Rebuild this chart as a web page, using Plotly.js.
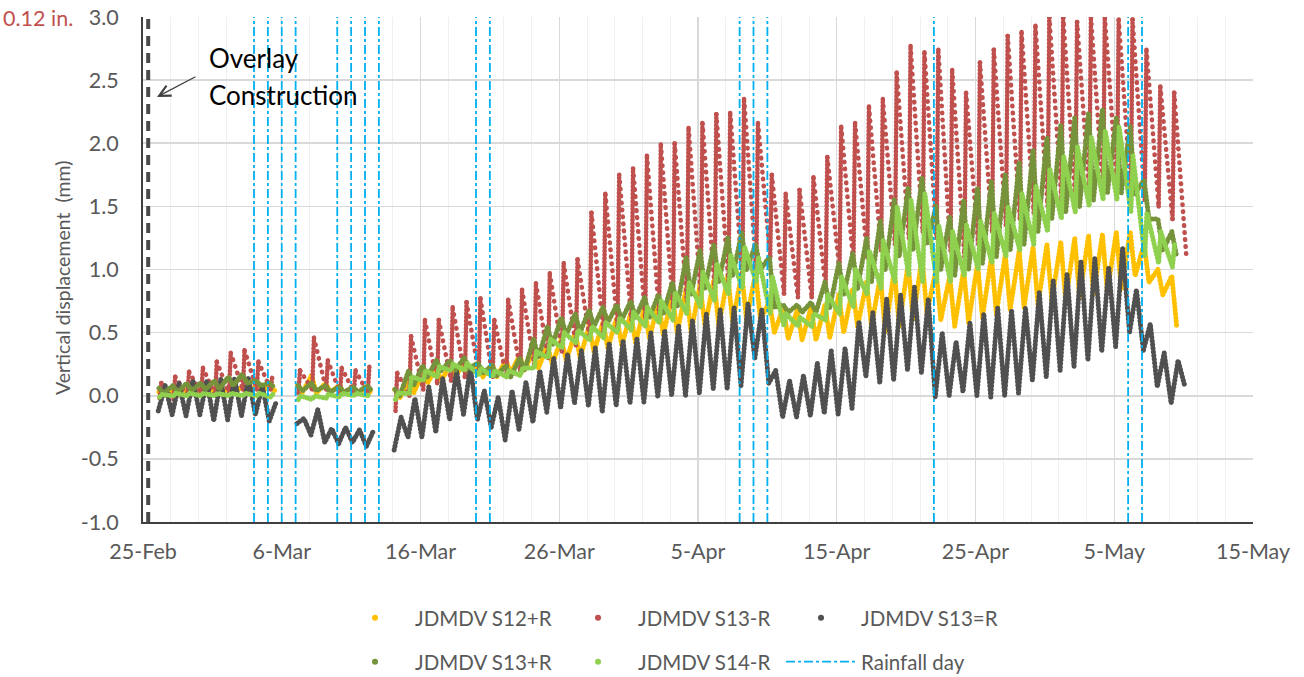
<!DOCTYPE html>
<html><head><meta charset="utf-8">
<script src="https://cdn.plot.ly/plotly-3.0.1.min.js"></script>
<style>
html,body{margin:0;padding:0;background:#fff;}
#chart{width:1304px;height:677px;}
.scatterlayer .trace .js-line{stroke-linejoin:round;}
.traceredfall .js-line,.traceredrise .js-line,.traceyel .js-line,.tracegrey .js-line,.traceolive .js-line,.tracelight .js-line{stroke-linecap:round;}
</style></head><body><div id="chart"></div><script>
// ---------------- DATA ----------------
// day number counted from 25-Feb (2020, leap year)
const days = [1,2,3,4,5,6,7,8,9,10,11,12,13,14,15,16,17,18,19,20,21,22,23,24,25,26,27,28,29,30,31,32,33,34,35,36,37,38,39,40,41,42,43,44,45,46,47,48,49,50,51,52,53,54,55,56,57,58,59,60,61,62,63,64,65,66,67,68,69,70,71,72,73,74,75];

// JDMDV S12+R (daily low / high, mm)
const s12pLow  = [0.00,0.00,0.01,0.01,0.01,0.02,0.02,0.03,0.04,null,0.03,0.02,0.03,0.02,0.02,0.02,null,-0.02,0.02,0.10,0.12,0.15,0.18,0.15,0.15,0.18,0.20,0.22,0.25,0.28,0.30,0.35,0.38,0.40,0.42,0.45,0.48,0.50,0.50,0.55,0.55,0.58,0.60,0.60,0.50,0.45,0.44,0.44,0.46,0.50,0.55,0.55,0.50,0.55,0.60,0.65,0.60,0.55,0.58,0.62,0.65,0.68,0.70,0.72,0.75,0.75,0.78,0.80,0.82,0.85,0.95,0.90,0.80,0.55,null];
const s12pHigh = [0.03,0.04,0.05,0.05,0.06,0.06,0.07,0.08,0.08,null,0.08,0.16,0.10,0.08,0.07,0.06,null,0.05,0.12,0.18,0.22,0.25,0.27,0.25,0.25,0.28,0.32,0.36,0.40,0.45,0.50,0.55,0.58,0.62,0.65,0.70,0.75,0.80,0.85,0.88,0.92,0.95,0.97,0.97,0.75,0.70,0.68,0.70,0.72,0.80,0.85,0.90,0.95,1.00,1.05,1.10,1.00,0.95,1.00,1.05,1.10,1.12,1.15,1.18,1.20,1.22,1.25,1.27,1.28,1.30,1.30,1.20,1.00,0.95,null];

// JDMDV S13-R
const s13mLow  = [-0.02,-0.03,0.00,0.02,0.00,0.02,0.05,0.05,0.05,null,0.02,0.05,0.05,0.02,0.03,0.02,null,-0.12,0.00,0.05,0.10,0.12,0.15,0.18,0.15,0.15,0.20,0.25,0.30,0.35,0.40,0.45,0.50,0.55,0.60,0.62,0.65,0.70,0.75,0.80,0.85,0.90,0.95,1.00,1.10,0.81,0.78,0.78,0.86,1.00,1.05,1.10,1.15,1.20,1.25,1.30,1.25,1.15,1.10,1.20,1.30,1.35,1.40,1.45,1.50,1.55,1.55,1.60,1.60,1.65,1.60,1.55,1.50,1.40,1.10];
const s13mHigh = [0.10,0.15,0.19,0.22,0.27,0.34,0.36,0.27,0.15,null,0.20,0.46,0.28,0.22,0.20,0.24,null,0.18,0.47,0.60,0.60,0.70,0.74,0.77,0.60,0.76,0.84,0.89,0.97,1.05,1.08,1.45,1.60,1.75,1.80,1.90,1.99,2.00,2.12,2.16,2.23,2.24,2.35,2.16,1.75,1.60,1.63,1.73,1.89,2.13,2.16,2.29,2.35,2.56,2.77,2.72,2.74,2.58,2.40,2.64,2.74,2.85,2.88,2.93,3.00,3.00,2.96,3.00,3.00,2.98,2.98,2.74,2.45,2.40,null];

// JDMDV S13=R
const s13eLow  = [-0.12,-0.15,-0.16,-0.15,-0.20,-0.19,-0.16,-0.15,-0.20,null,-0.22,-0.31,-0.37,-0.38,-0.37,-0.40,null,-0.43,-0.33,-0.33,-0.29,-0.19,-0.15,-0.19,-0.25,-0.35,-0.27,-0.21,-0.13,-0.10,-0.06,-0.08,-0.13,-0.08,-0.06,-0.05,-0.01,0.00,0.00,0.02,0.05,0.05,0.08,0.30,0.10,-0.17,-0.17,-0.16,-0.14,-0.15,-0.10,0.15,0.10,0.12,0.20,0.18,-0.01,0.00,0.03,0.00,-0.01,0.00,0.02,0.12,0.15,0.20,0.23,0.28,0.35,0.39,0.50,0.36,0.07,-0.06,0.07];
const s13eHigh = [0.08,0.10,0.12,0.12,0.13,0.14,0.14,0.08,-0.05,null,-0.18,-0.11,-0.26,-0.25,-0.27,-0.28,null,-0.17,-0.02,0.07,0.14,0.20,0.23,0.04,-0.01,0.04,0.11,0.20,0.30,0.33,0.36,0.38,0.42,0.44,0.46,0.50,0.52,0.56,0.60,0.65,0.68,0.70,0.73,0.68,0.20,0.12,0.16,0.26,0.36,0.38,0.59,0.66,0.77,0.80,0.86,0.77,0.50,0.43,0.58,0.65,0.70,0.68,0.70,0.82,0.92,0.97,1.07,1.09,1.02,1.17,0.84,0.57,0.34,0.28,null];

// JDMDV S13+R
const s13pLow  = [0.02,0.03,0.04,0.05,0.05,0.08,0.10,0.08,0.06,null,0.04,0.04,0.03,0.03,0.03,0.04,null,0.00,0.08,0.15,0.20,0.20,0.22,0.18,0.16,0.15,0.20,0.30,0.40,0.48,0.50,0.55,0.58,0.60,0.62,0.62,0.65,0.70,0.80,0.85,0.90,0.95,1.00,1.00,0.70,0.66,0.66,0.66,0.70,0.80,0.85,0.90,1.00,1.10,1.15,1.20,1.00,0.95,1.00,1.05,1.10,1.15,1.20,1.30,1.40,1.45,1.50,1.55,1.60,1.60,1.60,1.40,1.15,1.10,null];
const s13pHigh = [0.06,0.08,0.10,0.10,0.12,0.15,0.17,0.12,0.10,null,0.08,0.10,0.08,0.07,0.07,0.08,null,0.05,0.20,0.24,0.28,0.28,0.30,0.26,0.24,0.24,0.30,0.45,0.55,0.62,0.65,0.68,0.70,0.72,0.75,0.78,0.80,0.90,1.10,1.15,1.20,1.25,1.29,1.20,1.10,0.72,0.72,0.74,0.90,1.05,1.13,1.25,1.39,1.55,1.65,1.73,1.50,1.42,1.55,1.65,1.70,1.75,1.85,1.95,2.05,2.15,2.20,2.24,2.27,2.20,2.13,1.71,1.40,1.30,null];

// JDMDV S14-R
const s14mLow  = [-0.01,0.00,0.00,0.00,0.00,0.00,0.00,0.00,-0.01,null,-0.03,-0.03,-0.02,-0.01,0.00,0.00,null,-0.03,0.02,0.12,0.15,0.20,0.20,0.16,0.15,0.15,0.16,0.22,0.30,0.38,0.42,0.44,0.46,0.50,0.52,0.55,0.58,0.60,0.65,0.70,0.75,0.80,0.85,0.90,0.65,0.55,0.55,0.55,0.60,0.65,0.70,0.80,0.85,0.90,0.95,0.90,0.90,0.90,0.95,1.00,1.05,1.10,1.15,1.20,1.30,1.40,1.45,1.50,1.55,1.55,1.45,1.10,1.05,1.02,null];
const s14mHigh = [0.01,0.02,0.02,0.02,0.02,0.02,0.02,0.02,0.01,null,0.00,0.00,0.01,0.02,0.02,0.02,null,0.02,0.15,0.20,0.23,0.25,0.26,0.22,0.20,0.20,0.22,0.35,0.45,0.50,0.52,0.55,0.58,0.62,0.66,0.70,0.75,0.82,0.90,0.98,1.05,1.12,1.18,1.10,0.95,0.65,0.62,0.65,0.80,0.94,1.00,1.15,1.23,1.50,1.55,1.60,1.35,1.30,1.35,1.39,1.45,1.50,1.60,1.66,1.80,1.90,1.97,2.05,2.10,2.13,1.90,1.45,1.30,1.20,null];

// Rainfall days
const rainDays = ['2020-03-04','2020-03-05','2020-03-06','2020-03-07','2020-03-10','2020-03-11','2020-03-12','2020-03-13','2020-03-20','2020-03-21','2020-04-08','2020-04-09','2020-04-10','2020-04-22','2020-05-06','2020-05-07'];
const overlayDate = '2020-02-25 09:00';

const seriesNames = ['JDMDV S12+R','JDMDV S13-R','JDMDV S13=R','JDMDV S13+R','JDMDV S14-R','Rainfall day'];
const xTickRange = ['2020-02-25','2020-05-15'];
const yRange = [-1, 3];
const yTickVals = [-1,-0.5,0,0.5,1,1.5,2,2.5,3];
const yTickText = ['-1.0','-0.5','0.0','0.5','1.0','1.5','2.0','2.5','3.0'];

// ---------------- BUILD ----------------
const DAY = 86400000;
const base = Date.UTC(2020,1,25);
const toMs = d => base + d*DAY;
// time of day (fraction) of daily low / high for each sensor
const phase = {s12p:[0.50,0.15], s13m:[0.20,0.32], s13e:[0.10,0.60], s13p:[0.50,0.15], s14m:[0.20,0.35]};

function pathOf(lows, highs, ph){
  const x=[], y=[];
  days.forEach((d,i)=>{
    const pts=[[d+ph[0], lows[i]],[d+ph[1], highs[i]]].sort((a,b)=>a[0]-b[0]);
    pts.forEach(p=>{ x.push(toMs(p[0])); y.push(p[1]); });
  });
  return {x,y};
}
function riseFall(lows, highs, ph){
  const rx=[],ry=[],fx=[],fy=[];
  days.forEach((d,i)=>{
    if(lows[i]!==null && highs[i]!==null){
      rx.push(toMs(d+ph[0]),toMs(d+ph[1]),null); ry.push(lows[i],highs[i],null);
    }
    if(highs[i]!==null && i+1<days.length && lows[i+1]!==null){
      fx.push(toMs(d+ph[1]),toMs(days[i+1]+ph[0]),null); fy.push(highs[i],lows[i+1],null);
    }
  });
  return {rx,ry,fx,fy};
}

const cYellow='#FFC000', cRed='#C0504D', cGrey='#505050', cOlive='#76933C', cLight='#8FD14F', cRain='#00B0F0';
const traces=[];
const beads='0.5px,3.2px';
function lineTrace(p, color, w, uid){
  return {type:'scatter', mode:'lines', x:p.x, y:p.y, line:{color, width:w, dash:beads}, connectgaps:false, showlegend:false, hoverinfo:'skip', uid};
}
traces.push(lineTrace(pathOf(s12pLow, s12pHigh, phase.s12p), cYellow, 5, 'yel'));
const rf = riseFall(s13mLow, s13mHigh, phase.s13m);
traces.push({type:'scatter', mode:'lines', x:rf.fx, y:rf.fy, line:{color:cRed, width:4.6, dash:'0.5px,6.5px'}, showlegend:false, hoverinfo:'skip', uid:'redfall'});
traces.push({type:'scatter', mode:'lines', x:rf.rx, y:rf.ry, line:{color:cRed, width:4.6, dash:beads}, showlegend:false, hoverinfo:'skip', uid:'redrise'});
traces.push(lineTrace(pathOf(s13eLow, s13eHigh, phase.s13e), cGrey, 5, 'grey'));
traces.push(lineTrace(pathOf(s13pLow, s13pHigh, phase.s13p), cOlive, 5, 'olive'));
traces.push(lineTrace(pathOf(s14mLow, s14mHigh, phase.s14m), cLight, 5, 'light'));

// rainfall lines
const rx=[], ry=[];
rainDays.forEach(d=>{ rx.push(d,d,null); ry.push(yRange[0],yRange[1],null); });
// overlay construction
traces.push({type:'scatter', mode:'lines', x:[overlayDate,overlayDate], y:[yRange[0],yRange[1]], line:{color:'#4a4a4a', width:4, dash:'10px,7px'}, showlegend:false, hoverinfo:'skip', uid:'overlay'});

// legend entries
const legColors=[cYellow,cRed,cGrey,cOlive,cLight];
seriesNames.slice(0,5).forEach((n,i)=>{
  traces.push({type:'scatter', mode:'markers', x:[null], y:[null], name:n, marker:{color:legColors[i], size:6}, legend: i<3?'legend':'legend2', hoverinfo:'skip'});
});
traces.push({type:'scatter', mode:'lines', x:rx, y:ry, name:seriesNames[5], line:{color:cRain, width:1.8, dash:'dashdot'}, legend:'legend2', hoverinfo:'skip', uid:'rain'});

const txt='#595959';
const legBase = {orientation:'h', xanchor:'left', yanchor:'middle', itemwidth:70, entrywidth:138, entrywidthmode:'pixels', font:{family:'Lato', size:20.5, color:txt}, bgcolor:'rgba(0,0,0,0)', traceorder:'normal'};
const layout = {
  width:1304, height:677,
  margin:{l:143, r:51, t:17, b:155, autoexpand:false},
  paper_bgcolor:'#fff', plot_bgcolor:'#fff',
  font:{family:'Lato', color:txt},
  xaxis:{type:'date', range:xTickRange, tick0:'2020-02-25', dtick:10*DAY, tickformat:'%-d-%b',
    showgrid:true, gridcolor:'#D9D9D9', gridwidth:1.3, ticks:'', showline:true, linecolor:'#404040', linewidth:2,
    tickfont:{family:'Lato', size:21.5, color:txt}, ticklabelstandoff:9, zeroline:false, automargin:false,
    minor:{dtick:2*DAY, tick0:'2020-02-25', showgrid:true, gridcolor:'#F0F0F0', gridwidth:1}},
  yaxis:{range:yRange, tickmode:'array', tickvals:yTickVals, ticktext:yTickText, showgrid:true, gridcolor:'#D9D9D9', gridwidth:1.6,
    zeroline:false, showline:true, linecolor:'#404040', linewidth:2, ticks:'', automargin:false,
    tickfont:{family:'Lato', size:21.5, color:txt}, ticklabelstandoff:18},
  legend:Object.assign({}, legBase, {x:0.173, y:-0.19}),
  legend2:Object.assign({}, legBase, {x:0.173, y:-0.277}),
  annotations:[
    {xref:'paper', yref:'paper', x:-0.073, y:0.485, xanchor:'center', yanchor:'middle', textangle:-90, text:'Vertical displacement&nbsp; (mm)', showarrow:false, font:{family:'Lato', size:19.5, color:txt}},
    {xref:'paper', yref:'paper', x:-0.1279, y:0.998, xanchor:'left', yanchor:'middle', text:'0.12 in.', showarrow:false, font:{family:'Lato', size:21.5, color:'#C0504D'}},
    {xref:'paper', yref:'paper', x:0.0577, y:0.9188, xanchor:'left', yanchor:'middle', text:'Overlay', showarrow:false, font:{family:'Lato', size:26, color:'#000'}},
    {xref:'paper', yref:'paper', x:0.0577, y:0.8455, xanchor:'left', yanchor:'middle', text:'Construction', showarrow:false, font:{family:'Lato', size:26, color:'#000'}},
    {xref:'paper', yref:'paper', x:0.0126, y:0.8416, ax:40, ay:-21, text:'', showarrow:true, arrowhead:5, arrowsize:1.7, arrowwidth:1.3, arrowcolor:'#404040'}
  ]
};
Plotly.newPlot('chart', traces, layout, {displayModeBar:false, staticPlot:true});
</script></body></html>
